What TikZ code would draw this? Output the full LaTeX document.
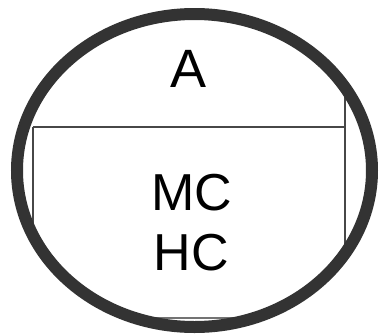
\documentclass[tikz,border=0pt]{standalone}
\usepackage{fontspec}
\setmainfont{Liberation Sans}
\usetikzlibrary{shapes.geometric}
\begin{document}
\begin{tikzpicture}[x=1bp,y=-1bp,
  thinline/.style={draw=black!72, line width=2bp},
  ring/.style={draw=black!80, line width=12bp},
  bigtext/.style={inner sep=0pt, anchor=base, text=black},
]
\useasboundingbox[fill=white] (0,0) rectangle (382,335);
\coordinate (c) at (194.5,170.5);
\begin{scope}
  \clip (c) ellipse [x radius=177.5, y radius=156.5];
  \draw[thinline] (33,127) -- (345,127);
  \draw[thinline] (33,127) -- (33,260);
  \draw[thinline] (345,60) -- (345,280);
  \draw[thinline, draw=black!55] (100,317.5) -- (290,317.5);
\end{scope}
\node[ring, ellipse, minimum width=355bp, minimum height=313bp, inner sep=0pt] (e) at (c) {};
\node[bigtext, font=\fontsize{54bp}{60bp}\selectfont] (a) at (189,87) {A};
\node[bigtext, font=\fontsize{52bp}{60bp}\selectfont] (mc) at (191.5,210) {MC};
\node[bigtext, font=\fontsize{52bp}{60bp}\selectfont] (hc) at (191.5,270) {HC};
\end{tikzpicture}
\end{document}
